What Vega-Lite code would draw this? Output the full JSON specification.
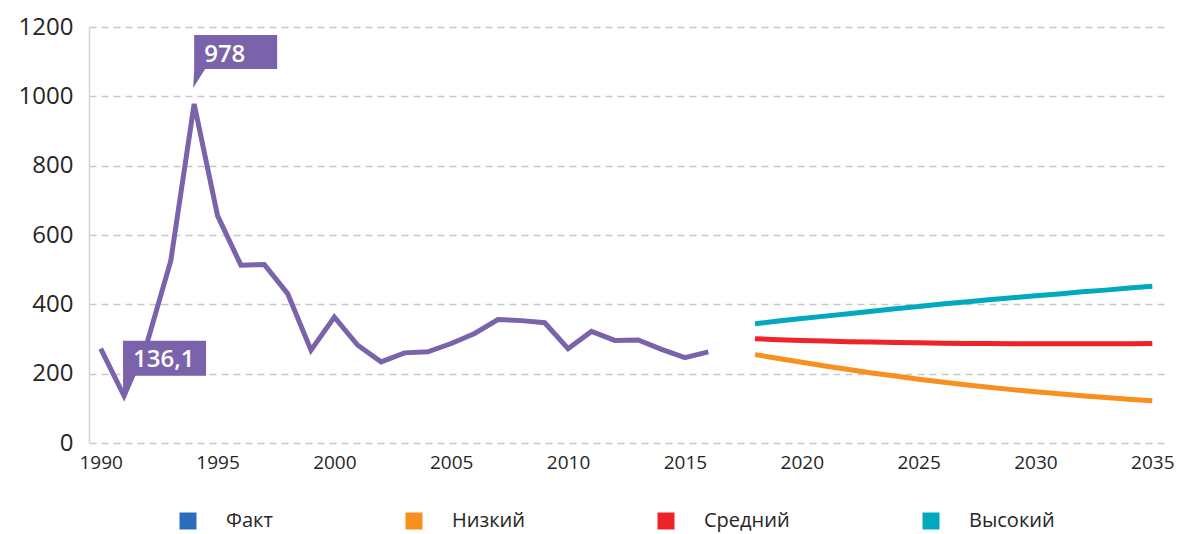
{
  "$schema": "https://vega.github.io/schema/vega-lite/v6.json",
  "width": 1075,
  "height": 416,
  "autosize": {"type": "none"},
  "padding": {"left": 89, "top": 27, "right": 16, "bottom": 91},
  "background": "white",
  "config": {
    "view": {"stroke": null},
    "font": "Open Sans",
    "legend": {"padding": 0}
  },
  "datasets": {
    "series": [
      {"year": 1990, "value": 272, "series": "Факт"},
      {"year": 1991, "value": 136.1, "series": "Факт"},
      {"year": 1992, "value": 292, "series": "Факт"},
      {"year": 1993, "value": 526, "series": "Факт"},
      {"year": 1994, "value": 978, "series": "Факт"},
      {"year": 1995, "value": 656, "series": "Факт"},
      {"year": 1996, "value": 513, "series": "Факт"},
      {"year": 1997, "value": 515, "series": "Факт"},
      {"year": 1998, "value": 431, "series": "Факт"},
      {"year": 1999, "value": 268, "series": "Факт"},
      {"year": 2000, "value": 363, "series": "Факт"},
      {"year": 2001, "value": 282, "series": "Факт"},
      {"year": 2002, "value": 234, "series": "Факт"},
      {"year": 2003, "value": 260, "series": "Факт"},
      {"year": 2004, "value": 263, "series": "Факт"},
      {"year": 2005, "value": 287, "series": "Факт"},
      {"year": 2006, "value": 316, "series": "Факт"},
      {"year": 2007, "value": 356, "series": "Факт"},
      {"year": 2008, "value": 353, "series": "Факт"},
      {"year": 2009, "value": 347, "series": "Факт"},
      {"year": 2010, "value": 272, "series": "Факт"},
      {"year": 2011, "value": 322, "series": "Факт"},
      {"year": 2012, "value": 296, "series": "Факт"},
      {"year": 2013, "value": 297, "series": "Факт"},
      {"year": 2014, "value": 270, "series": "Факт"},
      {"year": 2015, "value": 246, "series": "Факт"},
      {"year": 2016, "value": 263, "series": "Факт"},
      {"year": 2018, "value": 255, "series": "Низкий"},
      {"year": 2019, "value": 244, "series": "Низкий"},
      {"year": 2020, "value": 233, "series": "Низкий"},
      {"year": 2021, "value": 222, "series": "Низкий"},
      {"year": 2022, "value": 212, "series": "Низкий"},
      {"year": 2023, "value": 202, "series": "Низкий"},
      {"year": 2024, "value": 193, "series": "Низкий"},
      {"year": 2025, "value": 184, "series": "Низкий"},
      {"year": 2026, "value": 176, "series": "Низкий"},
      {"year": 2027, "value": 168, "series": "Низкий"},
      {"year": 2028, "value": 161, "series": "Низкий"},
      {"year": 2029, "value": 154, "series": "Низкий"},
      {"year": 2030, "value": 148, "series": "Низкий"},
      {"year": 2031, "value": 142, "series": "Низкий"},
      {"year": 2032, "value": 136, "series": "Низкий"},
      {"year": 2033, "value": 131, "series": "Низкий"},
      {"year": 2034, "value": 126, "series": "Низкий"},
      {"year": 2035, "value": 122, "series": "Низкий"},
      {"year": 2018, "value": 301, "series": "Средний"},
      {"year": 2019, "value": 298, "series": "Средний"},
      {"year": 2020, "value": 296, "series": "Средний"},
      {"year": 2021, "value": 294, "series": "Средний"},
      {"year": 2022, "value": 292, "series": "Средний"},
      {"year": 2023, "value": 291, "series": "Средний"},
      {"year": 2024, "value": 290, "series": "Средний"},
      {"year": 2025, "value": 289, "series": "Средний"},
      {"year": 2026, "value": 288, "series": "Средний"},
      {"year": 2027, "value": 287, "series": "Средний"},
      {"year": 2028, "value": 287, "series": "Средний"},
      {"year": 2029, "value": 286, "series": "Средний"},
      {"year": 2030, "value": 286, "series": "Средний"},
      {"year": 2031, "value": 286, "series": "Средний"},
      {"year": 2032, "value": 286, "series": "Средний"},
      {"year": 2033, "value": 286, "series": "Средний"},
      {"year": 2034, "value": 286, "series": "Средний"},
      {"year": 2035, "value": 287, "series": "Средний"},
      {"year": 2018, "value": 344, "series": "Высокий"},
      {"year": 2019, "value": 352, "series": "Высокий"},
      {"year": 2020, "value": 359, "series": "Высокий"},
      {"year": 2021, "value": 366, "series": "Высокий"},
      {"year": 2022, "value": 373, "series": "Высокий"},
      {"year": 2023, "value": 380, "series": "Высокий"},
      {"year": 2024, "value": 387, "series": "Высокий"},
      {"year": 2025, "value": 394, "series": "Высокий"},
      {"year": 2026, "value": 401, "series": "Высокий"},
      {"year": 2027, "value": 407, "series": "Высокий"},
      {"year": 2028, "value": 413, "series": "Высокий"},
      {"year": 2029, "value": 419, "series": "Высокий"},
      {"year": 2030, "value": 425, "series": "Высокий"},
      {"year": 2031, "value": 430, "series": "Высокий"},
      {"year": 2032, "value": 436, "series": "Высокий"},
      {"year": 2033, "value": 441, "series": "Высокий"},
      {"year": 2034, "value": 447, "series": "Высокий"},
      {"year": 2035, "value": 452, "series": "Высокий"}
    ],
    "callouts": [
      {"year": 1994, "value": 978, "label": "978"},
      {"year": 1991, "value": 136.1, "label": "136,1"}
    ]
  },
  "layer": [
    {
      "data": {"name": "series"},
      "transform": [{"filter": "datum.series === 'Факт'"}],
      "mark": {"type": "line", "color": "#7a63ab", "strokeWidth": 5, "strokeJoin": "miter"},
      "encoding": {
        "x": {
          "field": "year", "type": "quantitative",
          "scale": {"domain": [1989.5, 2035.5], "nice": false, "zero": false},
          "axis": {
            "values": [1990, 1995, 2000, 2005, 2010, 2015, 2020, 2025, 2030, 2035],
            "format": "d", "title": null, "grid": false, "domain": false,
            "ticks": false, "labelFontSize": 19, "labelColor": "#262626",
            "labelPadding": 10, "labelFont": "Open Sans"
          }
        },
        "y": {
          "field": "value", "type": "quantitative",
          "scale": {"domain": [0, 1200], "nice": false},
          "axis": {
            "values": [0, 200, 400, 600, 800, 1000, 1200],
            "format": "d",
            "title": null, "grid": true, "gridColor": "#c8c8c8",
            "gridDash": [7, 5], "gridWidth": 1.6,
            "domain": true, "domainColor": "#d4d4d4", "domainWidth": 1.5,
            "ticks": false, "labelFontSize": 24, "labelColor": "#262626",
            "labelPadding": 16, "labelFont": "Open Sans"
          }
        }
      }
    },
    {
      "data": {"name": "series"},
      "transform": [{"filter": "datum.series !== 'Факт'"}],
      "mark": {"type": "line", "strokeWidth": 5},
      "encoding": {
        "x": {"field": "year", "type": "quantitative"},
        "y": {"field": "value", "type": "quantitative"},
        "color": {
          "field": "series", "type": "nominal",
          "scale": {
            "domain": ["Факт", "Низкий", "Средний", "Высокий"],
            "range": ["#2a6ebb", "#f7901e", "#ee2229", "#00a9bd"]
          },
          "legend": {
            "title": null, "orient": "none", "direction": "horizontal",
            "legendX": 89, "legendY": 484,
            "symbolType": "square", "symbolSize": 289,
            "symbolOpacity": 1,
            "labelFontSize": 20, "labelColor": "#262626", "labelFont": "Open Sans",
            "labelOffset": 28, "columnPadding": 131,
            "encode": {
              "symbols": {
                "update": {
                  "fill": {"scale": "color", "field": "value"},
                  "stroke": {"value": "transparent"},
                  "strokeWidth": {"value": 0}
                }
              }
            }
          }
        }
      }
    },
    {
      "data": {"name": "callouts"},
      "mark": {"type": "point", "filled": true, "opacity": 1, "size": 4, "color": "#7a63ab", "strokeWidth": 0},
      "encoding": {
        "x": {"field": "year", "type": "quantitative"},
        "y": {"field": "value", "type": "quantitative"},
        "shape": {
          "field": "label", "type": "nominal",
          "scale": {
            "domain": ["978", "136,1"],
            "range": [
              "M -1 -16 L 0 -35 L 0 -69 L 83 -69 L 83 -35 L 11 -35 Z",
              "M -1 4 L -1 -55 L 82 -55 L 82 -20 L 11 -20 Z"
            ]
          },
          "legend": null
        }
      }
    },
    {
      "data": {"name": "callouts"},
      "transform": [{"filter": "datum.label === '978'"}],
      "mark": {"type": "text", "align": "left", "baseline": "alphabetic", "dx": 10, "dy": -42, "fontSize": 24, "fontWeight": 600, "color": "white", "font": "Open Sans"},
      "encoding": {
        "x": {"field": "year", "type": "quantitative"},
        "y": {"field": "value", "type": "quantitative"},
        "text": {"field": "label"}
      }
    },
    {
      "data": {"name": "callouts"},
      "transform": [{"filter": "datum.label === '136,1'"}],
      "mark": {"type": "text", "align": "left", "baseline": "alphabetic", "dx": 9, "dy": -29, "fontSize": 24, "fontWeight": 600, "color": "white", "font": "Open Sans"},
      "encoding": {
        "x": {"field": "year", "type": "quantitative"},
        "y": {"field": "value", "type": "quantitative"},
        "text": {"field": "label"}
      }
    }
  ]
}
